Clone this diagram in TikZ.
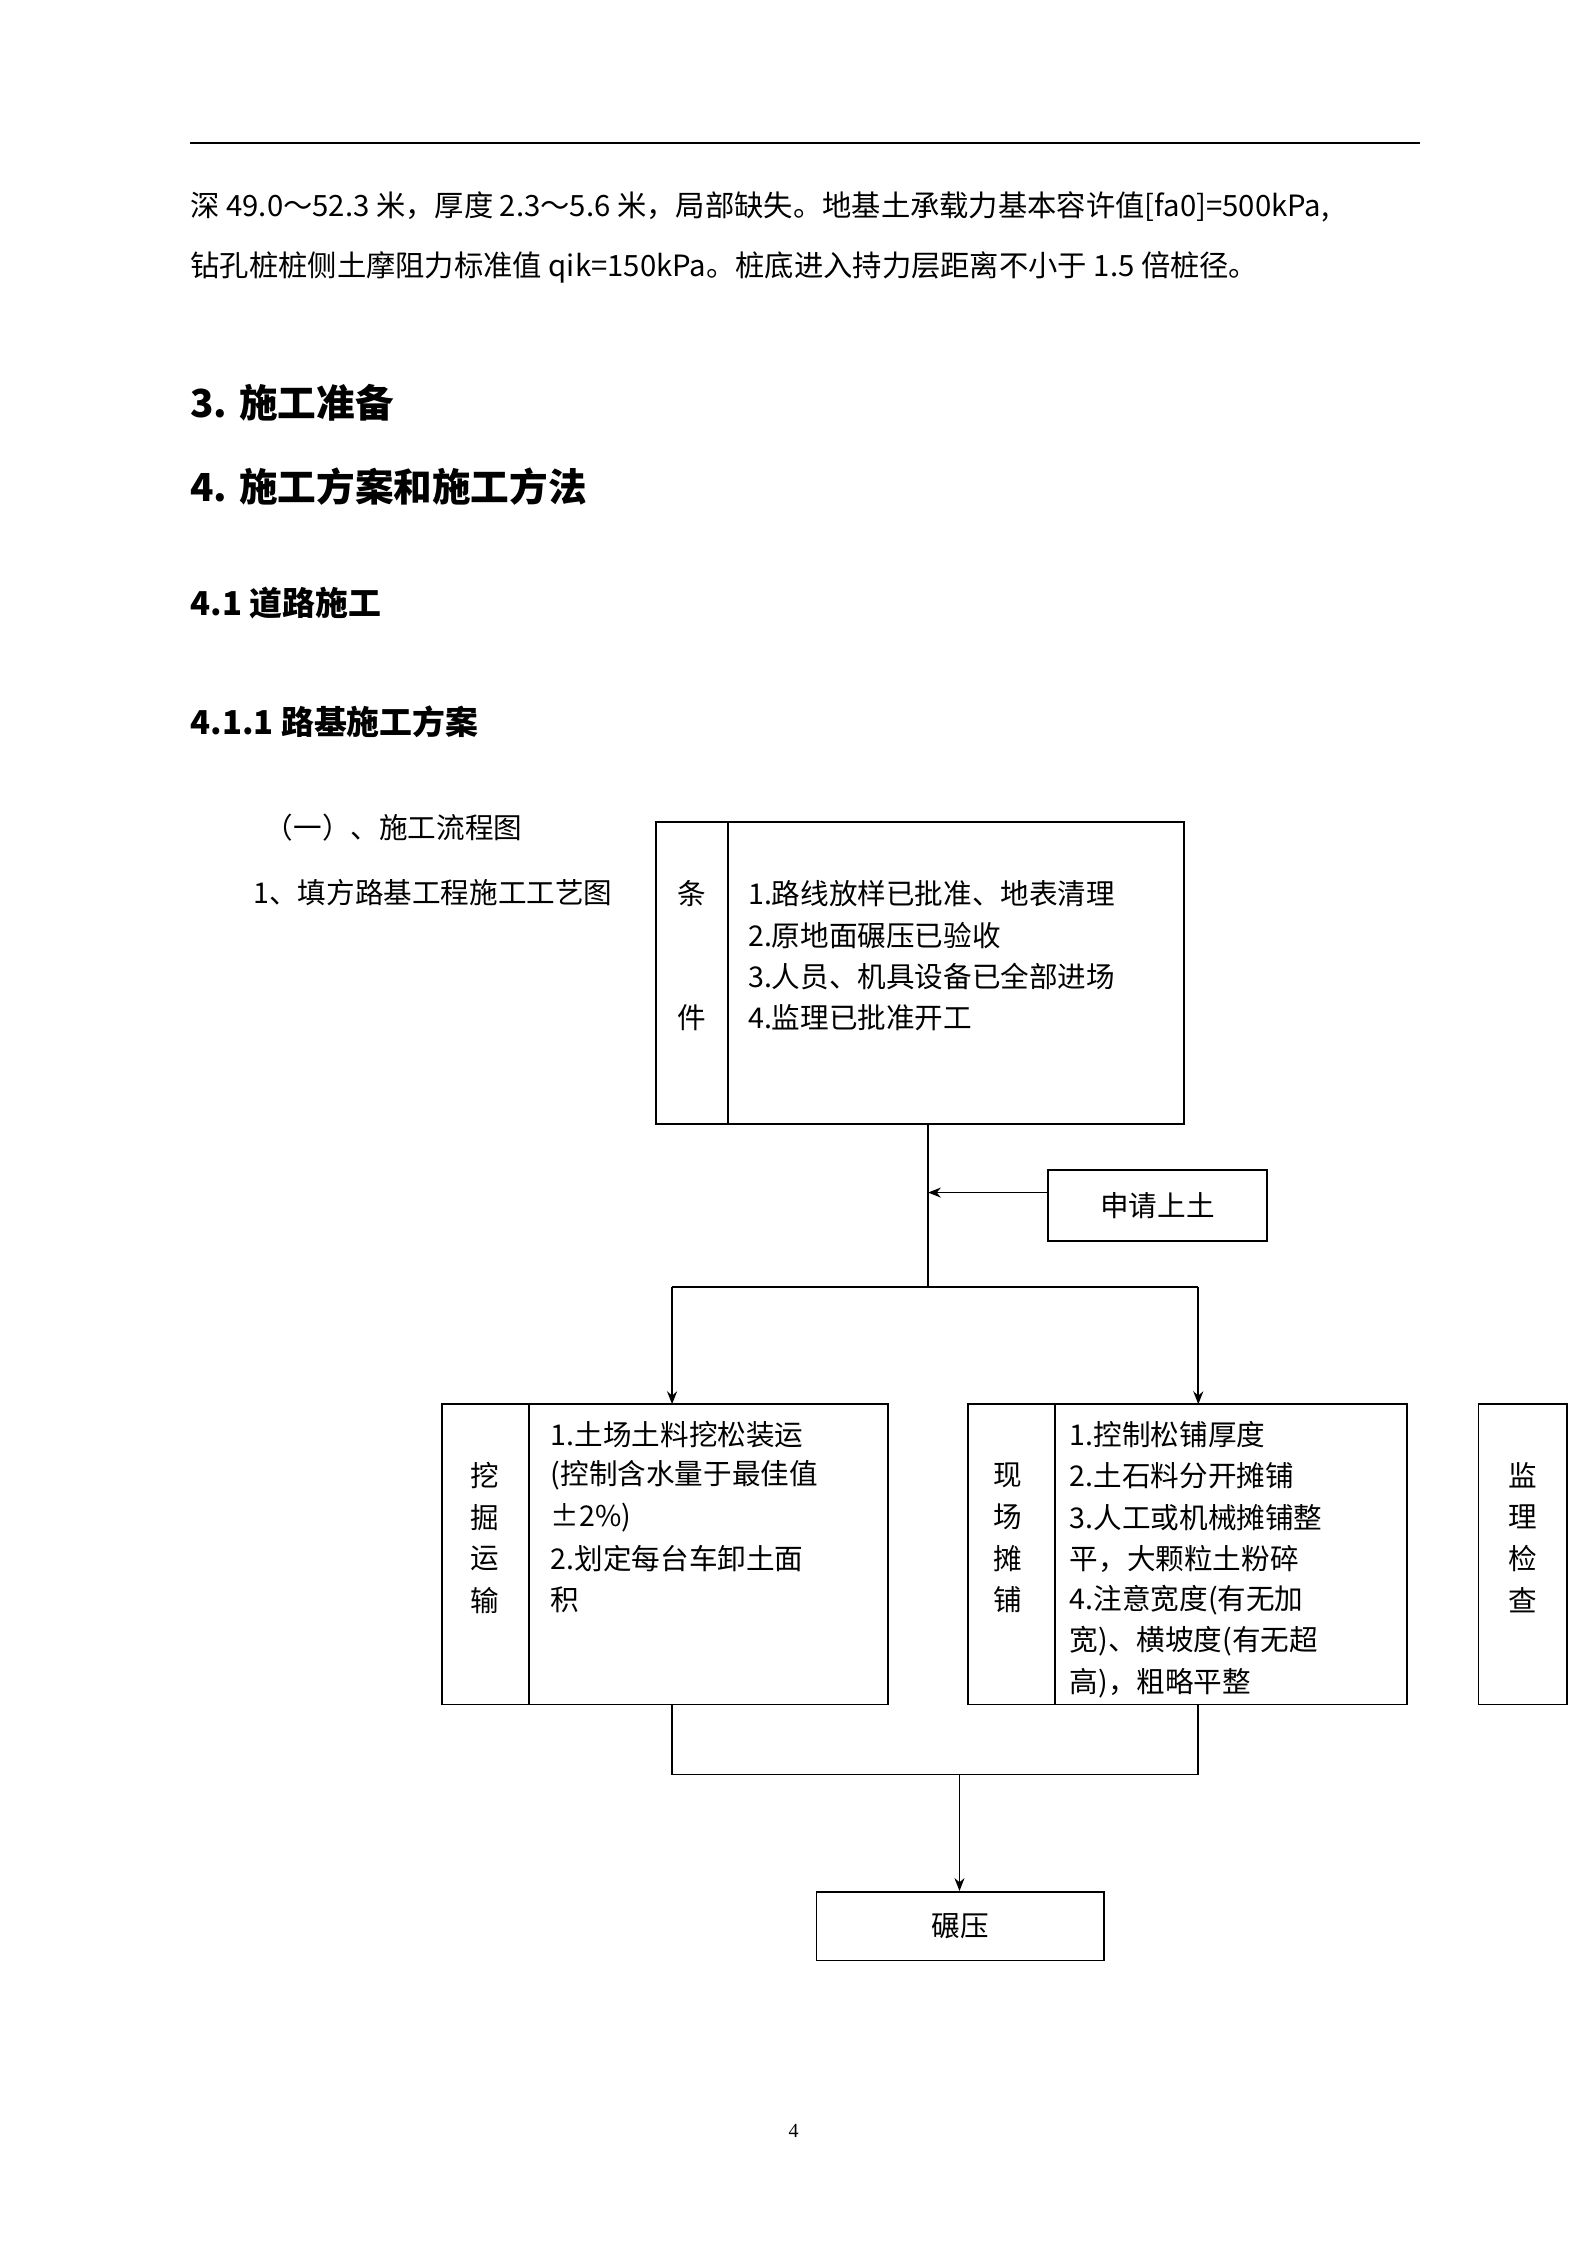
\documentclass[tikz,border=0pt]{standalone}
\usepackage{fontspec}
\setmainfont{Liberation Serif}
\newfontfamily\cjk{Noto Sans CJK SC}
\newfontfamily\cjkb{Noto Sans CJK SC Bold}
\usetikzlibrary{arrows.meta}
\begin{document}
\begin{tikzpicture}[x=1pt,y=-1pt,
  bx/.style={draw,line width=1.2pt},
  ln/.style={line width=1.2pt},
  ar/.style={line width=1.2pt,-{Stealth[length=9pt,width=7pt]}},
  tx/.style={anchor=west,inner sep=0pt,font=\cjk\fontsize{20}{24}\selectfont},
  vc/.style={inner sep=0pt,font=\cjk\fontsize{20}{24}\selectfont},
  hd/.style={anchor=west,inner sep=0pt,font=\cjk\bfseries\fontsize{27}{30}\selectfont}]
\useasboundingbox (0,0) rectangle (1110,1570);
\draw[line width=1pt] (133,100) -- (993,100);
\node[tx,font=\cjk\fontsize{20.5}{24}\selectfont] (p1) at (133,145) {深 49.0～52.3 米，厚度 2.3～5.6 米，局部缺失。地基土承载力基本容许值[fa0]=500kPa,};
\node[tx,font=\cjk\fontsize{20.5}{24}\selectfont] (p2) at (133,187) {钻孔桩桩侧土摩阻力标准值 qik=150kPa。桩底进入持力层距离不小于 1.5 倍桩径。};
\node[hd] (h1) at (133,282) {3. 施工准备};
\node[hd] (h2) at (133,340) {4. 施工方案和施工方法};
\node[hd,font=\cjk\bfseries\fontsize{23}{26}\selectfont] (h3) at (133,422) {4.1 道路施工};
\node[hd,font=\cjk\bfseries\fontsize{23}{26}\selectfont] (h4) at (133,505) {4.1.1 路基施工方案};
\node[tx] (s1) at (185,579) {（一）、施工流程图};
\node[tx] (s2) at (177,624) {1、填方路基工程施工工艺图};
% condition box
\node[bx,minimum width=369pt,minimum height=211pt,inner sep=0pt] (cond) at (643.5,680.5) {};
\draw[ln] (509,575) -- (509,786);
\node[vc] (c1) at (484,625) {条};
\node[vc] (c2) at (484,712) {件};
\node[tx] at (523,625) {1.路线放样已批准、地表清理};
\node[tx] at (523,654) {2.原地面碾压已验收};
\node[tx] at (523,683) {3.人员、机具设备已全部进场};
\node[tx] at (523,712) {4.监理已批准开工};
\node[bx,minimum width=153pt,minimum height=50pt,font=\cjk\fontsize{20}{24}\selectfont] (apply) at (809.5,843) {申请上土};
\coordinate (j1) at (649,900);
\draw[ln] (cond.south -| 649,0) -- (j1);
\draw[ar] (apply.west |- 0,834) -- (649,834);
\draw[ln] (470,900) -- (838,900);
% boxes
\node[bx,minimum width=312pt,minimum height=210pt,inner sep=0pt] (dig) at (465,1087) {};
\node[bx,minimum width=307pt,minimum height=210pt,inner sep=0pt] (lay) at (830.5,1087) {};
\node[bx,minimum width=62pt,minimum height=210pt,inner sep=0pt] (sup) at (1065,1087) {};
\draw[ar] (470,900) -- (470,982);
\draw[ar] (838,900) -- (838,982);
\draw[ln] (370,982) -- (370,1192);
\draw[ln] (738,982) -- (738,1192);
\foreach \c/\y in {挖/1032,掘/1061,运/1090,输/1119} \node[vc] at (339,\y) {\c};
\foreach \c/\y in {现/1032,场/1061,摊/1090,铺/1119} \node[vc] at (705,\y) {\c};
\foreach \c/\y in {监/1032,理/1061,检/1090,查/1119} \node[vc] at (1065,\y) {\c};
\node[tx] at (385,1003) {1.土场土料挖松装运};
\node[tx] at (385,1032) {(控制含水量于最佳值};
\node[tx] at (385,1061) {±2\%)};
\node[tx] at (385,1090) {2.划定每台车卸土面};
\node[tx] at (385,1119) {积};
\node[tx] at (748,1003) {1.控制松铺厚度};
\node[tx] at (748,1032) {2.土石料分开摊铺};
\node[tx] at (748,1061) {3.人工或机械摊铺整};
\node[tx] at (748,1090) {平，大颗粒土粉碎};
\node[tx] at (748,1119) {4.注意宽度(有无加};
\node[tx] at (748,1148) {宽)、横坡度(有无超};
\node[tx] at (748,1177) {高)，粗略平整};
\coordinate (j2) at (671,1241);
\draw[ln] (470,1192) -- (470,1241) -- (838,1241) -- (838,1192);
\node[bx,minimum width=201pt,minimum height=48pt,font=\cjk\fontsize{20}{24}\selectfont] (roll) at (671.5,1347) {碾压};
\draw[ar] (j2) -- (roll.north -| j2);
\node[font=\fontsize{14}{16}\selectfont] (pg) at (555,1490) {4};
\end{tikzpicture}
\end{document}
